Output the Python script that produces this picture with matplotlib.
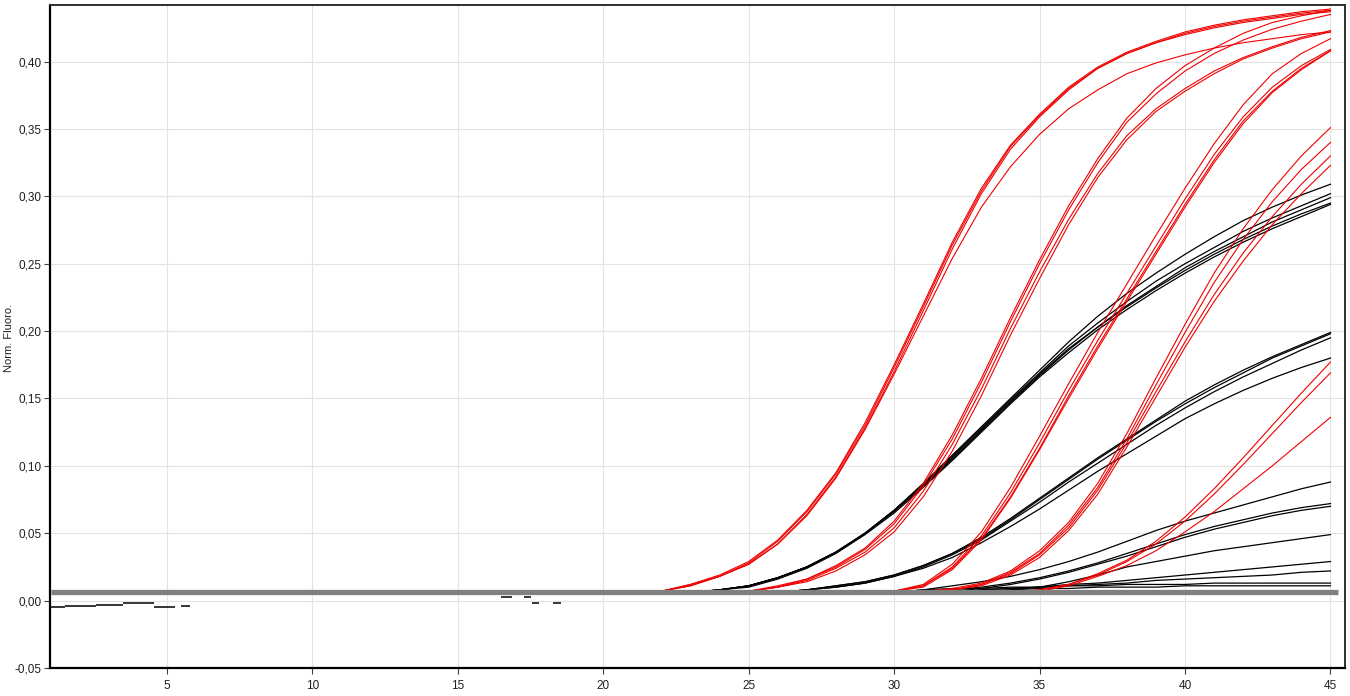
import matplotlib
matplotlib.use("Agg")
import matplotlib.pyplot as plt
from matplotlib.ticker import FuncFormatter, MultipleLocator

plt.rcParams['font.family'] = ['Liberation Sans', 'DejaVu Sans']

# ---------------- data ----------------
cycles = list(range(22, 46))          # cycles 22..45 (earlier cycles sit under the threshold line)

# red: earliest group
red_group1 = [
    [0.007, 0.012, 0.019, 0.029, 0.045, 0.067, 0.095, 0.132, 0.175, 0.220, 0.266, 0.306, 0.338, 0.361, 0.381, 0.396, 0.407, 0.415, 0.422, 0.427, 0.431, 0.434, 0.437, 0.439],
    [0.007, 0.011, 0.018, 0.027, 0.042, 0.064, 0.092, 0.128, 0.170, 0.215, 0.261, 0.302, 0.335, 0.359, 0.379, 0.395, 0.406, 0.414, 0.421, 0.426, 0.430, 0.433, 0.436, 0.438],
    [0.007, 0.012, 0.018, 0.028, 0.044, 0.066, 0.094, 0.130, 0.173, 0.218, 0.264, 0.304, 0.337, 0.360, 0.380, 0.395, 0.406, 0.414, 0.420, 0.425, 0.429, 0.432, 0.435, 0.437],
    [0.007, 0.011, 0.018, 0.027, 0.042, 0.063, 0.091, 0.127, 0.168, 0.211, 0.254, 0.292, 0.322, 0.346, 0.365, 0.379, 0.391, 0.399, 0.405, 0.410, 0.414, 0.417, 0.420, 0.422],
]
red_group2 = [
    [0.006, 0.006, 0.006, 0.007, 0.010, 0.015, 0.024, 0.036, 0.054, 0.081, 0.116, 0.157, 0.202, 0.244, 0.283, 0.317, 0.345, 0.365, 0.380, 0.393, 0.403, 0.411, 0.418, 0.423],
    [0.006, 0.006, 0.006, 0.007, 0.010, 0.014, 0.022, 0.034, 0.051, 0.077, 0.111, 0.152, 0.197, 0.239, 0.279, 0.314, 0.342, 0.363, 0.378, 0.391, 0.402, 0.410, 0.417, 0.422],
    [0.006, 0.006, 0.006, 0.007, 0.010, 0.016, 0.025, 0.038, 0.057, 0.085, 0.120, 0.162, 0.207, 0.250, 0.290, 0.325, 0.355, 0.376, 0.393, 0.406, 0.416, 0.424, 0.430, 0.435],
    [0.006, 0.006, 0.006, 0.007, 0.011, 0.016, 0.026, 0.039, 0.059, 0.087, 0.123, 0.165, 0.210, 0.253, 0.293, 0.328, 0.358, 0.380, 0.397, 0.410, 0.421, 0.429, 0.434, 0.438],
]
red_group3 = [
    [0.006, 0.006, 0.006, 0.006, 0.006, 0.006, 0.006, 0.006, 0.007, 0.011, 0.025, 0.048, 0.080, 0.117, 0.156, 0.193, 0.228, 0.263, 0.298, 0.331, 0.359, 0.381, 0.397, 0.409],
    [0.006, 0.006, 0.006, 0.006, 0.006, 0.006, 0.006, 0.006, 0.007, 0.012, 0.027, 0.051, 0.084, 0.122, 0.161, 0.199, 0.235, 0.271, 0.306, 0.339, 0.368, 0.391, 0.406, 0.417],
    [0.006, 0.006, 0.006, 0.006, 0.006, 0.006, 0.006, 0.006, 0.007, 0.011, 0.024, 0.046, 0.077, 0.113, 0.152, 0.189, 0.224, 0.259, 0.294, 0.327, 0.356, 0.378, 0.395, 0.408],
    [0.006, 0.006, 0.006, 0.006, 0.006, 0.006, 0.006, 0.006, 0.007, 0.010, 0.023, 0.045, 0.076, 0.112, 0.150, 0.187, 0.222, 0.257, 0.292, 0.325, 0.354, 0.377, 0.394, 0.408],
]
red_group4 = [
    [0.006, 0.006, 0.006, 0.006, 0.006, 0.006, 0.006, 0.006, 0.006, 0.007, 0.009, 0.013, 0.022, 0.037, 0.058, 0.087, 0.124, 0.165, 0.205, 0.243, 0.276, 0.305, 0.330, 0.351],
    [0.006, 0.006, 0.006, 0.006, 0.006, 0.006, 0.006, 0.006, 0.006, 0.007, 0.008, 0.012, 0.021, 0.035, 0.056, 0.084, 0.120, 0.160, 0.199, 0.236, 0.268, 0.296, 0.320, 0.340],
    [0.006, 0.006, 0.006, 0.006, 0.006, 0.006, 0.006, 0.006, 0.006, 0.007, 0.008, 0.012, 0.020, 0.034, 0.054, 0.082, 0.117, 0.155, 0.192, 0.227, 0.258, 0.285, 0.309, 0.330],
    [0.006, 0.006, 0.006, 0.006, 0.006, 0.006, 0.006, 0.006, 0.006, 0.007, 0.008, 0.011, 0.019, 0.032, 0.052, 0.079, 0.114, 0.151, 0.188, 0.222, 0.252, 0.279, 0.302, 0.323],
]
red_group5 = [
    [0.006, 0.006, 0.006, 0.006, 0.006, 0.006, 0.006, 0.006, 0.006, 0.006, 0.006, 0.006, 0.006, 0.008, 0.012, 0.020, 0.030, 0.044, 0.062, 0.083, 0.106, 0.130, 0.154, 0.177],
    [0.006, 0.006, 0.006, 0.006, 0.006, 0.006, 0.006, 0.006, 0.006, 0.006, 0.006, 0.006, 0.006, 0.008, 0.012, 0.019, 0.029, 0.042, 0.059, 0.079, 0.101, 0.124, 0.147, 0.169],
    [0.006, 0.006, 0.006, 0.006, 0.006, 0.006, 0.006, 0.006, 0.006, 0.006, 0.006, 0.006, 0.006, 0.007, 0.011, 0.018, 0.026, 0.037, 0.051, 0.066, 0.083, 0.100, 0.118, 0.136],
]

# black: shallow curves
black_group1 = [
    [0.006, 0.006, 0.008, 0.011, 0.017, 0.025, 0.036, 0.050, 0.067, 0.087, 0.108, 0.129, 0.150, 0.171, 0.192, 0.211, 0.228, 0.243, 0.257, 0.270, 0.282, 0.292, 0.301, 0.309],
    [0.006, 0.006, 0.008, 0.011, 0.017, 0.025, 0.036, 0.050, 0.067, 0.086, 0.107, 0.128, 0.149, 0.169, 0.189, 0.206, 0.222, 0.237, 0.250, 0.262, 0.274, 0.284, 0.293, 0.302],
    [0.006, 0.006, 0.008, 0.011, 0.017, 0.025, 0.036, 0.050, 0.066, 0.085, 0.105, 0.126, 0.147, 0.167, 0.186, 0.203, 0.219, 0.233, 0.247, 0.259, 0.270, 0.281, 0.290, 0.299],
    [0.006, 0.006, 0.008, 0.011, 0.017, 0.025, 0.036, 0.050, 0.067, 0.086, 0.106, 0.127, 0.148, 0.168, 0.187, 0.203, 0.218, 0.232, 0.245, 0.257, 0.268, 0.278, 0.287, 0.295],
    [0.006, 0.006, 0.008, 0.010, 0.016, 0.024, 0.035, 0.049, 0.065, 0.084, 0.104, 0.125, 0.146, 0.166, 0.184, 0.201, 0.216, 0.230, 0.243, 0.255, 0.266, 0.276, 0.285, 0.294],
]
black_group2 = [
    [0.006, 0.006, 0.006, 0.006, 0.006, 0.008, 0.011, 0.014, 0.019, 0.026, 0.035, 0.047, 0.061, 0.076, 0.091, 0.106, 0.120, 0.134, 0.148, 0.160, 0.171, 0.181, 0.190, 0.199],
    [0.006, 0.006, 0.006, 0.006, 0.006, 0.008, 0.011, 0.014, 0.019, 0.026, 0.035, 0.046, 0.060, 0.075, 0.090, 0.105, 0.119, 0.133, 0.146, 0.158, 0.169, 0.180, 0.189, 0.198],
    [0.006, 0.006, 0.006, 0.006, 0.006, 0.008, 0.010, 0.013, 0.018, 0.025, 0.034, 0.045, 0.059, 0.073, 0.088, 0.102, 0.116, 0.130, 0.143, 0.155, 0.166, 0.176, 0.186, 0.195],
    [0.006, 0.006, 0.006, 0.006, 0.006, 0.008, 0.010, 0.013, 0.018, 0.024, 0.032, 0.043, 0.055, 0.068, 0.082, 0.096, 0.109, 0.122, 0.135, 0.146, 0.156, 0.165, 0.173, 0.180],
]
black_group3 = [
    [0.006, 0.006, 0.006, 0.006, 0.006, 0.006, 0.006, 0.006, 0.006, 0.008, 0.011, 0.014, 0.018, 0.023, 0.029, 0.036, 0.044, 0.052, 0.059, 0.065, 0.071, 0.077, 0.083, 0.088],
    [0.006, 0.006, 0.006, 0.006, 0.006, 0.006, 0.006, 0.006, 0.006, 0.006, 0.008, 0.010, 0.013, 0.017, 0.022, 0.028, 0.035, 0.042, 0.049, 0.055, 0.060, 0.065, 0.069, 0.072],
    [0.006, 0.006, 0.006, 0.006, 0.006, 0.006, 0.006, 0.006, 0.006, 0.006, 0.007, 0.009, 0.012, 0.016, 0.021, 0.027, 0.033, 0.040, 0.047, 0.053, 0.058, 0.063, 0.067, 0.070],
    [0.006, 0.006, 0.006, 0.006, 0.006, 0.006, 0.006, 0.006, 0.006, 0.006, 0.006, 0.006, 0.008, 0.010, 0.014, 0.019, 0.025, 0.029, 0.033, 0.037, 0.040, 0.043, 0.046, 0.049],
    [0.006, 0.006, 0.006, 0.006, 0.006, 0.006, 0.006, 0.006, 0.006, 0.006, 0.006, 0.008, 0.009, 0.010, 0.012, 0.013, 0.015, 0.017, 0.019, 0.021, 0.023, 0.025, 0.027, 0.029],
    [0.006, 0.006, 0.006, 0.006, 0.006, 0.006, 0.006, 0.006, 0.006, 0.006, 0.006, 0.008, 0.009, 0.010, 0.011, 0.012, 0.013, 0.015, 0.016, 0.017, 0.018, 0.019, 0.021, 0.022],
    [0.006, 0.006, 0.006, 0.006, 0.006, 0.006, 0.006, 0.006, 0.006, 0.008, 0.009, 0.009, 0.010, 0.010, 0.011, 0.011, 0.012, 0.012, 0.012, 0.013, 0.013, 0.013, 0.013, 0.013],
    [0.006, 0.006, 0.006, 0.006, 0.006, 0.006, 0.006, 0.006, 0.006, 0.006, 0.006, 0.006, 0.008, 0.009, 0.009, 0.010, 0.010, 0.010, 0.011, 0.011, 0.011, 0.011, 0.011, 0.011],
]

# short baseline fragments visible below the threshold
fragment_start = [1.0, 1.5, 2.55, 3.5, 4.55, 5.5, 16.5, 17.26, 17.54, 18.26]
fragment_end = [1.5, 2.55, 3.5, 4.55, 5.26, 5.78, 16.85, 17.5, 17.8, 18.54]
fragment_value = [-0.005, -0.0037, -0.003, -0.002, -0.0045, -0.0037, 0.0027, 0.0027, -0.0017, -0.0017]

threshold = 0.0067
threshold_span = [1.0, 45.25]

y_ticks = [-0.05, 0.00, 0.05, 0.10, 0.15, 0.20, 0.25, 0.30, 0.35, 0.40]
x_ticks = [5, 10, 15, 20, 25, 30, 35, 40, 45]

# ---------------- plot ----------------
fig = plt.figure(figsize=(13.5, 6.96), dpi=100)
ax = fig.add_axes([0.03704, 0.04023, 0.95926, 0.95259])

RED = '#f00000'
for grp in (black_group1, black_group2, black_group3):
    for c in grp:
        ax.plot(cycles, c, color='black', lw=0.9, zorder=3)
for grp in (red_group1, red_group2, red_group3, red_group4, red_group5):
    for c in grp:
        ax.plot(cycles, c, color=RED, lw=0.8, zorder=3)

for s, e, v in zip(fragment_start, fragment_end, fragment_value):
    ax.plot([s, e], [v, v], color='black', lw=1.1, zorder=3, solid_capstyle='butt')

ax.plot(threshold_span, [threshold, threshold], color='#808080', lw=3.8,
        zorder=5, solid_capstyle='butt')

ax.set_xlim(0.98, 45.5)
ax.set_ylim(-0.05, 0.442)
ax.set_xticks(x_ticks)
ax.set_yticks(y_ticks)
ax.yaxis.set_major_formatter(FuncFormatter(lambda v, p: f"{v:.2f}".replace('.', ',')))
ax.grid(True, color='#e3e3e3', lw=0.8, zorder=0)
ax.set_axisbelow(True)

ax.tick_params(axis='both', direction='out', length=4, width=0.8, labelsize=8.5,
               color='#404040', labelcolor='#202020')
ax.tick_params(axis='y', pad=2)
ax.tick_params(axis='x', pad=5)

for side in ('left', 'bottom'):
    ax.spines[side].set_linewidth(1.6)
    ax.spines[side].set_color('black')
for side in ('top', 'right'):
    ax.spines[side].set_linewidth(1.4)
    ax.spines[side].set_color('#303030')

fig.text(0.0067, 0.515, 'Norm. Fluoro.', rotation=90, ha='center', va='center',
         fontsize=8, color='#202020')

fig.savefig('out.png', dpi=100)
